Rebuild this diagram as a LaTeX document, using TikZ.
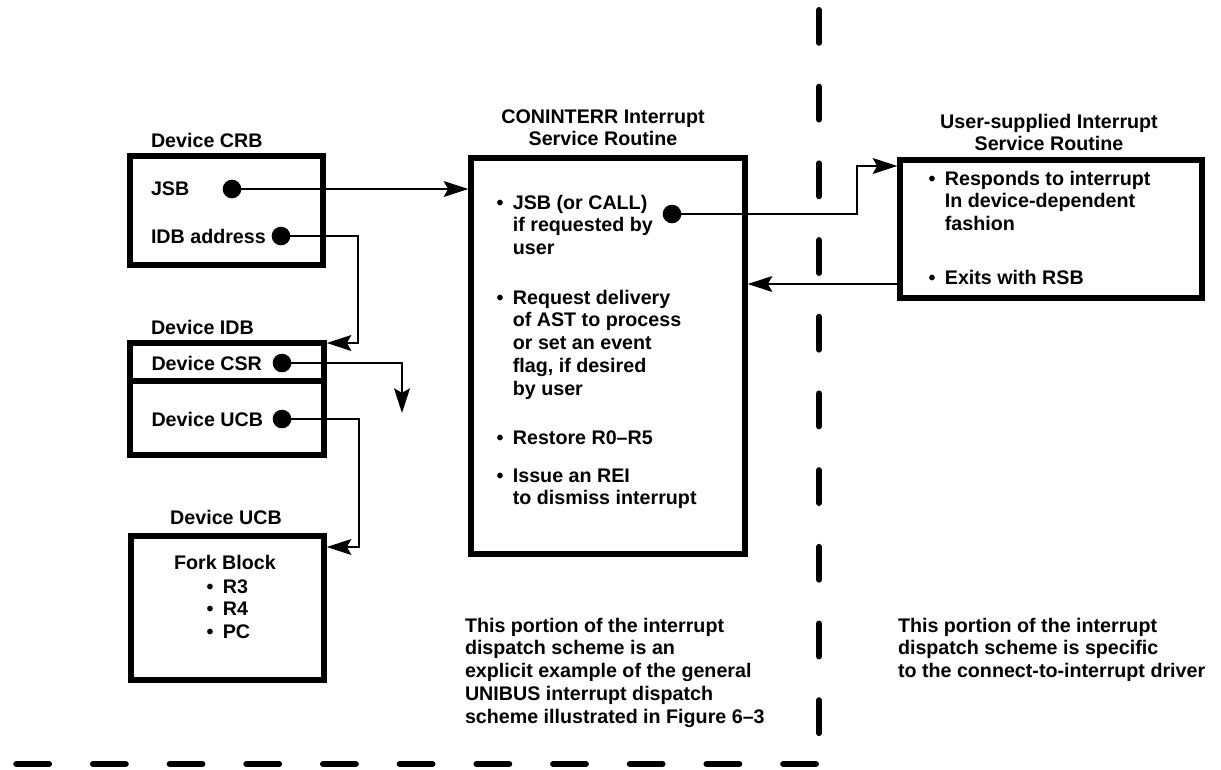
\documentclass[tikz,border=0pt]{standalone}
\usepackage{fontspec}
\setmainfont{Liberation Sans}
\usetikzlibrary{arrows.meta}
\begin{document}
\begin{tikzpicture}[x=0.02cm, y=-0.02cm,
  txt/.style={font=\fontsize{11.2}{13}\selectfont\bfseries, inner sep=0pt, outer sep=0pt, anchor=base west},
  ctxt/.style={txt, anchor=base},
  box/.style={draw, line width=3.1pt, inner sep=0pt},
  dot/.style={circle, fill, inner sep=0pt, minimum size=10.6pt},
  conn/.style={line width=1.2pt},
  arr/.style={conn, -{Stealth[length=14pt, width=9pt, inset=2.5pt]}},
  divider/.style={line width=3.4pt, line cap=round, dash pattern=on 18.7pt off 24.95pt}]
\useasboundingbox (0,0) rectangle (1221,769);

% ---------- boxes ----------
\node[box, minimum width=3.86cm, minimum height=2.18cm] (crb) at (226.5,210.5) {};
\node[box, minimum width=3.88cm, minimum height=2.24cm] (idb) at (227,399) {};
\draw[line width=3.1pt] (idb.west |- 0,381) -- (idb.east |- 0,381);
\node[box, minimum width=3.86cm, minimum height=2.88cm] (ucb) at (227.5,608) {};
\node[box, minimum width=5.48cm, minimum height=7.92cm] (isr) at (608,356) {};
\node[box, minimum width=6.04cm, minimum height=2.76cm] (usr) at (1051,229) {};

% ---------- titles ----------
\node[txt] (crbtitle) at (151,147) {Device CRB};
\node[txt] (idbtitle) at (151,334) {Device IDB};
\node[ctxt] (ucbtitle) at (226,524) {Device UCB};
\node[ctxt] (isrtitle) at (603,123) {\begin{tabular}[t]{@{}c@{}}CONINTERR Interrupt\\Service Routine\end{tabular}};
\node[ctxt] (usrtitle) at (1049,128) {\begin{tabular}[t]{@{}c@{}}User-supplied Interrupt\\Service Routine\end{tabular}};

% ---------- Device CRB ----------
\node[txt] (jsb) at (151,195) {JSB};
\node[dot] (jsbdot) at (232,189) {};
\node[txt] (idbaddr) at (151,243) {IDB address};
\node[dot] (idbdot) at (281,236) {};

% ---------- Device IDB ----------
\node[txt] (csr) at (151.5,370) {Device CSR};
\node[dot] (csrdot) at (282,363) {};
\node[txt] (ucbfield) at (151.5,426) {Device UCB};
\node[dot] (ucbdot) at (282,419) {};

% ---------- Device UCB ----------
\node[ctxt] (fork) at (225,569) {Fork Block};
\node[txt] (regs) at (206.5,593) {\begin{tabular}[t]{@{}l@{\hspace{5.4pt}}l@{}}\textbullet & R3\\ \textbullet & R4\\ \textbullet & PC\end{tabular}};

% ---------- CONINTERR routine ----------
\node[txt] (isr1) at (496.5,209) {\begin{tabular}[t]{@{}l@{\hspace{5.4pt}}l@{}}\textbullet & JSB (or CALL)\\ & if requested by\\ & user\end{tabular}};
\node[dot] (isrdot) at (672,214) {};
\node[txt] (isr2) at (496.5,304) {\begin{tabular}[t]{@{}l@{\hspace{5.4pt}}l@{}}\textbullet & Request delivery\\ & of AST to process\\ & or set an event\\ & flag, if desired\\ & by user\end{tabular}};
\node[txt] (isr3) at (496.5,444) {\begin{tabular}[t]{@{}l@{\hspace{5.4pt}}l@{}}\textbullet & Restore R0--R5\end{tabular}};
\node[txt] (isr4) at (496.5,482) {\begin{tabular}[t]{@{}l@{\hspace{5.4pt}}l@{}}\textbullet & Issue an REI\\ & to dismiss interrupt\end{tabular}};

% ---------- user-supplied routine ----------
\node[txt] (usr1) at (928.5,185) {\begin{tabular}[t]{@{}l@{\hspace{5.4pt}}l@{}}\textbullet & Responds to interrupt\\ & In device-dependent\\ & fashion\end{tabular}};
\node[txt] (usr2) at (928.5,284) {\begin{tabular}[t]{@{}l@{\hspace{5.4pt}}l@{}}\textbullet & Exits with RSB\end{tabular}};

% ---------- notes ----------
\node[txt] (noteleft) at (465,632) {\begin{tabular}[t]{@{}l@{}}This portion of the interrupt\\dispatch scheme is an\\explicit example of the general\\UNIBUS interrupt dispatch\\scheme illustrated in Figure 6--3\end{tabular}};
\node[txt] (noteright) at (898,632) {\begin{tabular}[t]{@{}l@{}}This portion of the interrupt\\dispatch scheme is specific\\to the connect-to-interrupt driver\end{tabular}};

% ---------- connectors ----------
\coordinate (bendidb) at (358,343);
\coordinate (csrend) at (402,413);
\coordinate (benducb) at (359,547);
\coordinate (bendusr) at (857,166);
\coordinate (ret) at (0,284);

\draw[arr] (jsbdot.center) -- (isr.west |- jsbdot);
\draw[arr] (idbdot.center) -| (bendidb) -- (idb.east |- bendidb);
\draw[arr] (csrdot.center) -| (csrend);
\draw[arr] (ucbdot.center) -| (benducb) -- (ucb.east |- benducb);
\draw[arr] (isrdot.center) -| (bendusr) -- (usr.west |- bendusr);
\draw[arr] (usr.west |- ret) -- (isr.east |- ret);

% ---------- region dividers ----------
\coordinate (vtop) at (819,10);
\coordinate (vbot) at (819,764);
\coordinate (hright) at (816,764);
\coordinate (hleft) at (0,764);
\draw[divider] (vtop) -- (vbot);
\draw[divider] (hright) -- (hleft);
\end{tikzpicture}
\end{document}
